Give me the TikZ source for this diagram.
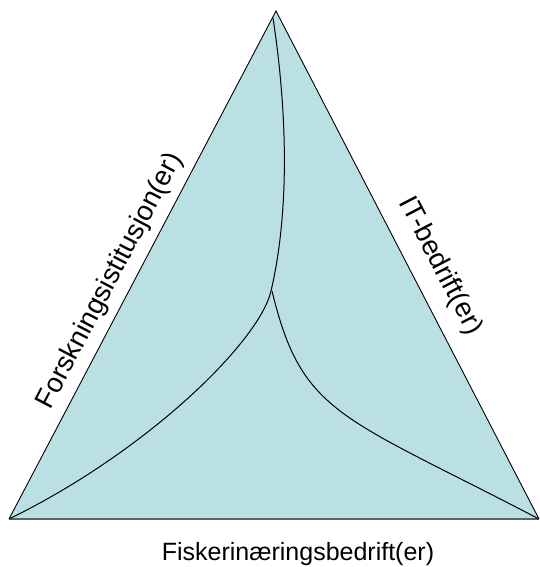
\documentclass[tikz,border=0pt]{standalone}
\usepackage{fontspec}
\setmainfont{Liberation Sans}
\definecolor{trifill}{RGB}{187,224,227}
\definecolor{baseedge}{RGB}{88,102,106}
\tikzset{
  lbl/.style={inner sep=0pt, font=\fontsize{25}{30}\selectfont},
  sidelbl/.style={inner sep=0pt, font=\fontsize{27.5}{32}\selectfont},
  edge/.style={draw=black, line width=0.9pt},
  curve/.style={draw=black, line width=1pt}
}
\begin{document}
\begin{tikzpicture}[x=1pt,y=-1pt]
\useasboundingbox (0,0) rectangle (539,567);
\coordinate (apex) at (276,11);
\coordinate (bl) at (9,519);
\coordinate (br) at (539,519);
\coordinate (c1s) at (273,18);
\coordinate (mid) at (271,291);
\coordinate (c2s) at (272,291);
\fill[trifill] (apex) -- (br) -- (bl) -- cycle;
\draw[edge] (bl) -- (apex) -- (br);
\draw[draw=baseedge, line width=2pt] (bl) -- (br);
\draw[curve] (c1s) .. controls (287,110) and (290,210) .. (mid)
  .. controls (260,340) and (150,450) .. (bl);
\draw[curve] (c2s) .. controls (302,415) and (340,415) .. (br);
\node[sidelbl, rotate=62.3] (lf) at (110,281) {Forskningsistitusjon(er)};
\node[sidelbl, rotate=-62.5] (li) at (440,266) {IT-bedrift(er)};
\node[lbl, anchor=base] (lb) at (298,560) {Fiskerinæringsbedrift(er)};
\end{tikzpicture}
\end{document}
